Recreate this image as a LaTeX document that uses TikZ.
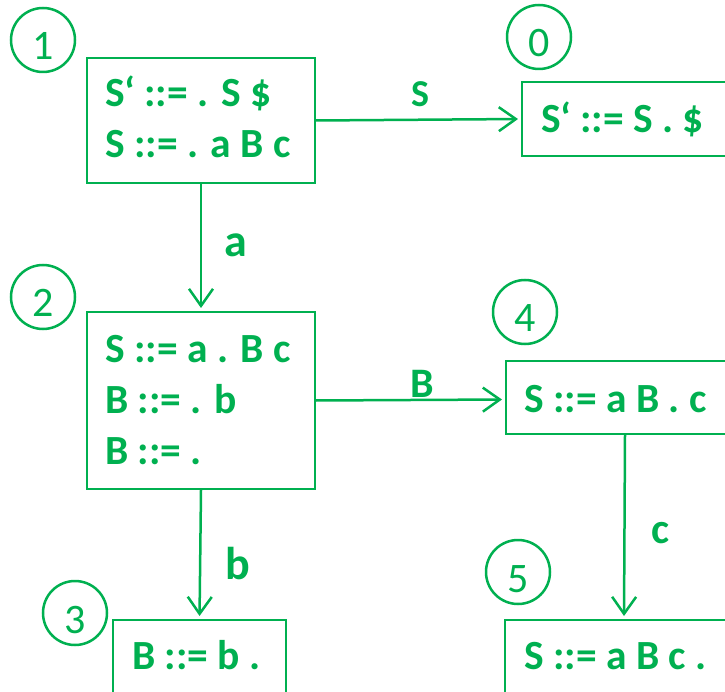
\documentclass[tikz,border=0pt]{standalone}
\usepackage{fontspec}
\setmainfont{Carlito}
\usetikzlibrary{arrows.meta}
\definecolor{grn}{HTML}{00B050}
\begin{document}
\begin{tikzpicture}[x=1pt,y=-1pt,
  box/.style={draw=grn, line width=2pt, rectangle, inner sep=0pt, anchor=north west},
  numcirc/.style={draw=grn, line width=2.5pt, circle, minimum size=64pt, inner sep=0pt},
  numtxt/.style={text=grn, font=\fontsize{42}{42}\selectfont, anchor=base, inner sep=0pt},
  rule/.style={text=grn, font=\bfseries\fontsize{41.5}{42}\selectfont, anchor=base west, inner sep=0pt},
  lbl/.style={text=grn, font=\bfseries\fontsize{#1}{#1}\selectfont, anchor=base west, inner sep=0pt},
  conn/.style={draw=grn, line width=2.5pt, -{Straight Barb[length=17pt, width=24pt]}, shorten >=3pt}
]
\useasboundingbox (0,0) rectangle (725,692);
% boxes
\node[box, minimum width=228pt, minimum height=125pt] (b1) at (86,57) {};
\node[box, minimum width=240pt, minimum height=74pt] (b0) at (521,81) {};
\node[box, minimum width=228pt, minimum height=177pt] (b2) at (86,311) {};
\node[box, minimum width=238pt, minimum height=73pt] (b4) at (505,360) {};
\node[box, minimum width=173pt, minimum height=100pt] (b3) at (112,619) {};
\node[box, minimum width=238pt, minimum height=100pt] (b5) at (504,619) {};
% rules
\node[rule] (r1a) at (105,107) {S‘ ::= . S \$};
\node[rule] (r1b) at (105,158) {S ::= . a B c};
\node[rule] (r0a) at (541,133) {S‘ ::= S . \$};
\node[rule] (r2a) at (105,362) {S ::= a . B c};
\node[rule] (r2b) at (105,413) {B ::= . b};
\node[rule] (r2c) at (105,464) {B ::= .};
\node[rule] (r4a) at (524,412) {S ::= a B . c};
\node[rule] (r3a) at (132,669) {B ::= b .};
\node[rule] (r5a) at (524,669) {S ::= a B c .};
% circles
\node[numcirc] (c1) at (43,40) {};
\node[numtxt] (n1) at (43,60) {1};
\node[numcirc] (c0) at (539,37) {};
\node[numtxt] (n0) at (539,57) {0};
\node[numcirc] (c2) at (43,297) {};
\node[numtxt] (n2) at (43,317) {2};
\node[numcirc] (c4) at (525,312) {};
\node[numtxt] (n4) at (525,332) {4};
\node[numcirc] (c3) at (75,613) {};
\node[numtxt] (n3) at (75,633) {3};
\node[numcirc] (c5) at (518,572) {};
\node[numtxt] (n5) at (518,592) {5};
% connectors
\draw[conn] (b1.east) -- (b0.west);
\draw[conn] (b1.south) -- (b2.north);
\draw[conn] (b2.east) -- ([yshift=-2pt]b4.west);
\draw[conn] (b2.south) -- (b3.north);
\draw[conn] (b4.south) -- (b5.north);
% labels
\node[lbl=38] (ls) at (411,107) {\textbf{S}};
\node[lbl=46] (la) at (224,257) {a};
\node[lbl=42] (lB) at (410,397) {B};
\node[lbl=46] (lb) at (225,579) {b};
\node[lbl=43] (lc) at (651,543) {c};
\end{tikzpicture}
\end{document}
